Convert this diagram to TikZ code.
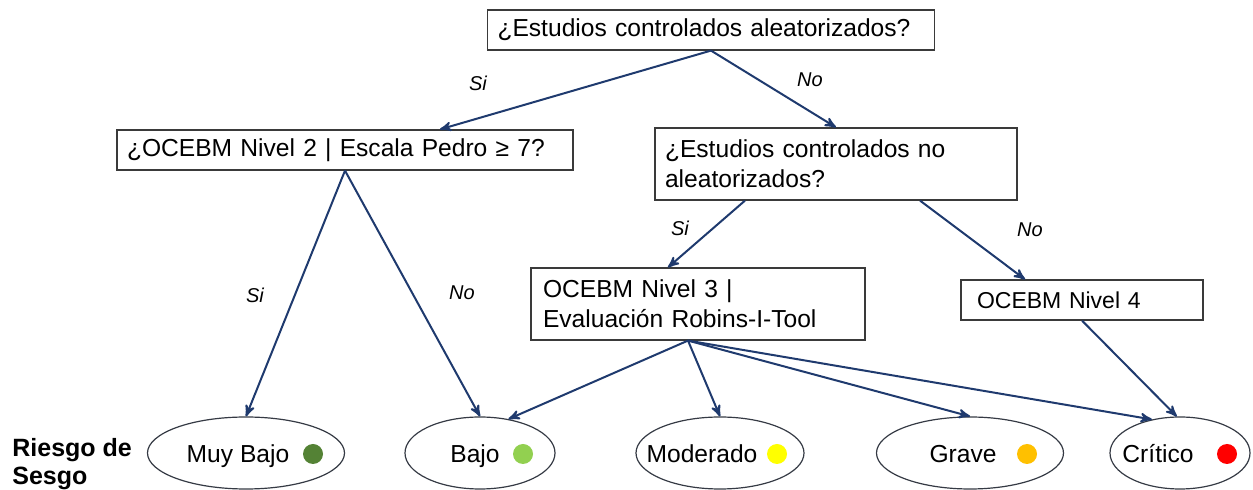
\documentclass[tikz,border=0pt]{standalone}
\usepackage{fontspec}
\setmainfont{Liberation Sans}
\usepackage{tikz}
\usetikzlibrary{arrows}
\usetikzlibrary{shapes.geometric}

\definecolor{flecha}{HTML}{1F3A6E}
\definecolor{borde}{HTML}{3A3A3A}
\definecolor{muybajoc}{HTML}{548235}
\definecolor{bajoc}{HTML}{92D050}
\definecolor{moderadoc}{HTML}{FFFF00}
\definecolor{gravec}{HTML}{FFC000}
\definecolor{criticoc}{HTML}{FF0000}

\newcommand{\txt}{\fontsize{12.3}{15}\selectfont}

\begin{document}
\begin{tikzpicture}[x=0.5pt,y=-0.5pt,
    pregunta/.style={draw=borde, line width=0.6pt, rectangle, align=left,
      inner xsep=5pt, inner ysep=2pt, font=\txt, anchor=center},
    riesgo/.style={draw=borde!80!flecha, line width=0.6pt, ellipse,
      minimum height=36pt, inner sep=0pt},
    texto/.style={font=\txt, anchor=base, inner sep=0pt},
    punto/.style={circle, minimum size=10pt, inner sep=0pt},
    etiqueta/.style={font=\fontsize{10}{12}\selectfont\itshape},
    flechita/.style={-stealth', draw=flecha, line width=1pt}]
  \useasboundingbox (0,0) rectangle (1253,490);

  % preguntas
  \node[pregunta, minimum height=20pt, text width=213.5pt] (aleat) at (711,30)
    {¿Estudios controlados aleatorizados?};
  \node[pregunta, minimum height=20pt, text width=218pt] (nivel2) at (345,150)
    {¿OCEBM Nivel 2 | Escala Pedro ≥ 7?};
  \node[pregunta, minimum height=36pt, text width=171pt] (noaleat) at (836,164)
    {¿Estudios controlados no\\aleatorizados?};
  \node[pregunta, minimum height=36pt, text width=155pt, inner xsep=6pt] (nivel3) at (698,304)
    {OCEBM Nivel 3 |\\Evaluación Robins-I-Tool};
  \node[pregunta, minimum height=20pt, text width=105pt, inner xsep=8pt,
    font=\fontsize{11.5}{14}\selectfont] (nivel4) at (1082,300)
    {OCEBM Nivel 4};

  % niveles de riesgo
  \node[riesgo, minimum width=98.5pt] (muybajo) at (246,453) {};
  \node[riesgo, minimum width=75pt] (bajo) at (480,453) {};
  \node[riesgo, minimum width=84pt] (moderado) at (720,453) {};
  \node[riesgo, minimum width=93.5pt] (grave) at (970,453) {};
  \node[riesgo, minimum width=70pt] (critico) at (1180,453) {};

  \node[texto] (tmuybajo) at (238,463) {Muy Bajo};
  \node[texto] (tbajo) at (475,463) {Bajo};
  \node[texto] (tmoderado) at (702,463) {Moderado};
  \node[texto] (tgrave) at (963,463) {Grave};
  \node[texto] (tcritico) at (1158,463) {Crítico};

  \node[punto, fill=muybajoc] (pmuybajo) at (313,454) {};
  \node[punto, fill=bajoc] (pbajo) at (523,454) {};
  \node[punto, fill=moderadoc] (pmoderado) at (777,454) {};
  \node[punto, fill=gravec] (pgrave) at (1027,454) {};
  \node[punto, fill=criticoc] (pcritico) at (1227,454) {};

  \node[anchor=north west, align=left, inner sep=0pt,
    font=\fontsize{12.5}{14}\selectfont\bfseries]
    (sesgo) at (12,438) {Riesgo de\\Sesgo};

  % conexiones
  \draw[flechita] (aleat.south) -- ([xshift=47.5pt]nivel2.north);
  \draw[flechita] (aleat.south) -- (noaleat.north);
  \draw[flechita] (nivel2.south) -- (muybajo.north);
  \draw[flechita] (nivel2.south) -- (bajo.north);
  \draw[flechita] ([xshift=-45.5pt]noaleat.south) -- ([xshift=-15pt]nivel3.north);
  \draw[flechita] ([xshift=42pt]noaleat.south) -- ([xshift=-28.5pt]nivel4.north);
  \draw[flechita] ([xshift=-5pt]nivel3.south) -- (bajo.50);
  \draw[flechita] ([xshift=-5pt]nivel3.south) -- (moderado.north);
  \draw[flechita] ([xshift=-5pt]nivel3.south) -- (grave.north);
  \draw[flechita] ([xshift=-5pt]nivel3.south) -- (critico.130);
  \draw[flechita] (nivel4.south) -- (critico.95);

  % etiquetas
  \node[etiqueta] (si1) at (478,83) {Si};
  \node[etiqueta] (no1) at (810,80) {No};
  \node[etiqueta] (si2) at (255,295) {Si};
  \node[etiqueta] (no2) at (462,293) {No};
  \node[etiqueta] (si3) at (680,228) {Si};
  \node[etiqueta] (no3) at (1030,230) {No};
\end{tikzpicture}
\end{document}
